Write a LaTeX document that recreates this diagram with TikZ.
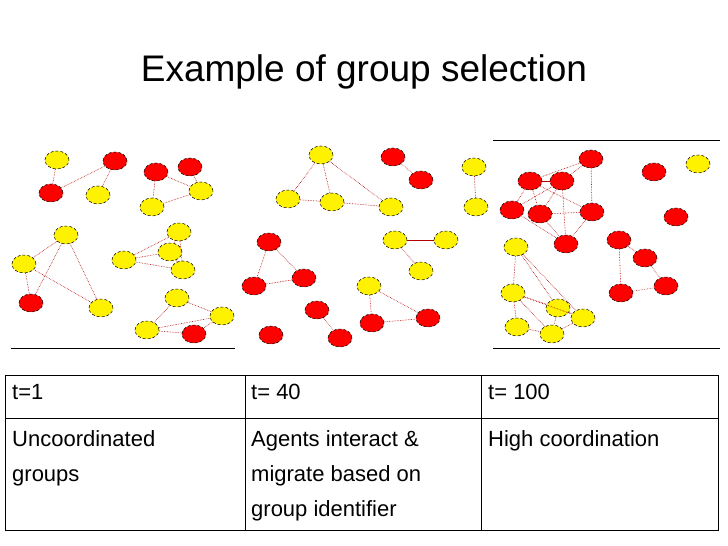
\documentclass[tikz,border=0pt]{standalone}
\usepackage{fontspec}
\setmainfont{Liberation Sans}
\usetikzlibrary{shapes.geometric}
\begin{document}
\begin{tikzpicture}[x=1pt,y=-1pt,
 ag/.style={shape=ellipse,draw=black,densely dashed,line width=0.5pt,minimum width=24pt,minimum height=18pt,inner sep=0pt},
 yl/.style={ag,fill=yellow},
 rd/.style={ag,fill=red},
 lk/.style={draw=red!70!black,densely dotted,line width=0.6pt},
 cell/.style={anchor=north west,font=\fontsize{22}{35}\selectfont,align=left,inner sep=0pt}]
\useasboundingbox (0,0) rectangle (728,546);
\node[font=\fontsize{37}{44}\selectfont] (title) at (364,72) {Example of group selection};
\path
% panel 1
 node[yl] (a1) at (57,160) {} node[rd] (a2) at (115,161) {} node[rd] (a3) at (51,193) {}
 node[yl] (a4) at (98,195) {} node[rd] (a5) at (156,172) {} node[rd] (a6) at (190,167) {}
 node[yl] (a7) at (201,191) {} node[yl] (a8) at (152,207) {} node[yl] (a9) at (179,232) {}
 node[yl] (a10) at (66,235) {} node[yl] (a11) at (24,264) {} node[yl] (a12) at (124,260) {}
 node[yl] (a13) at (170,252) {} node[yl] (a14) at (183,270) {} node[rd] (a15) at (31,303) {}
 node[yl] (a16) at (101,308) {} node[yl] (a17) at (177,298) {} node[yl] (a18) at (222,316) {}
 node[yl] (a19) at (147,330) {} node[rd] (a20) at (194,334) {}
% panel 2
 node[yl] (b1) at (321,155) {} node[rd] (b2) at (393,157) {} node[rd] (b3) at (421,180) {}
 node[yl] (b4) at (288,199) {} node[yl] (b5) at (332,202) {} node[yl] (b6) at (391,207) {}
 node[rd] (b7) at (269,242) {} node[rd] (b8) at (254,286) {} node[rd] (b9) at (304,278) {}
 node[yl] (b10) at (395,240) {} node[yl] (b11) at (446,240) {} node[yl] (b12) at (421,271) {}
 node[yl] (b13) at (369,286) {} node[rd] (b14) at (317,310) {} node[rd] (b15) at (372,323) {}
 node[rd] (b16) at (428,318) {} node[rd] (b17) at (271,335) {} node[rd] (b18) at (340,338) {}
% panel 3
 node[yl] (c1) at (474,167) {} node[yl] (c2) at (476,207) {}
 node[rd] (c3) at (591,159) {} node[rd] (c4) at (530,181) {} node[rd] (c5) at (562,181) {}
 node[rd] (c6) at (654,172) {} node[yl] (c7) at (698,164) {} node[rd] (c8) at (512,210) {}
 node[rd] (c9) at (540,214) {} node[rd] (c10) at (592,212) {} node[rd] (c11) at (676,217) {}
 node[rd] (c12) at (566,244) {} node[rd] (c13) at (619,240) {} node[yl] (c14) at (516,247) {}
 node[rd] (c15) at (645,258) {} node[rd] (c16) at (666,286) {} node[rd] (c17) at (621,293) {}
 node[yl] (c18) at (513,293) {} node[yl] (c19) at (558,308) {} node[yl] (c20) at (583,318) {}
 node[yl] (c21) at (517,327) {} node[yl] (c22) at (552,334) {};
\foreach \u/\v in {a1/a3,a2/a3,a2/a4,a5/a7,a5/a8,a6/a7,a7/a8,a9/a12,a9/a13,a9/a14,a12/a13,a12/a14,a13/a14,
 a10/a11,a10/a15,a10/a16,a11/a15,a11/a16,a17/a18,a17/a19,a18/a19,a19/a20,a18/a20,
 b1/b4,b1/b5,b1/b6,b4/b5,b5/b6,b2/b3,c1/c2,b7/b8,b7/b9,b8/b9,b10/b12,b13/b15,b13/b16,b15/b16,b14/b18,
 c3/c4,c3/c5,c3/c10,c4/c8,c4/c9,c4/c10,c5/c8,c5/c9,c5/c12,c8/c12,c9/c12,c10/c12,c9/c10,
 c14/c18,c14/c19,c14/c20,c18/c19,c18/c21,c18/c22,c18/c20,c19/c22,c19/c20,c21/c22,c20/c22,
 c13/c15,c13/c17,c15/c16,c17/c16}
 \draw[lk] (\u) -- (\v);
\draw[red!70!black,line width=0.8pt] (b10) -- (b11);
\draw[red!70!black,line width=0.6pt] (c4) -- (c5);
\draw[line width=0.6pt] (11,348) -- (235,348);
\draw[line width=0.6pt] (493,140) -- (720,140);
\draw[line width=0.6pt] (493,348) -- (720,348);
% table
\draw[line width=0.6pt] (5,375) rectangle (718,530);
\draw[line width=0.6pt] (5,418) -- (718,418) (245,375) -- (245,530) (481,375) -- (481,530);
\node[cell] (t1) at (12,384) {t=1};
\node[cell] (t2) at (251,384) {t= 40};
\node[cell] (t3) at (488,384) {t= 100};
\node[cell] (d1) at (12,430) {Uncoordinated\\groups};
\node[cell] (d2) at (251,430) {Agents interact \&\\migrate based on\\group identifier};
\node[cell] (d3) at (488,430) {High coordination};
\end{tikzpicture}
\end{document}
